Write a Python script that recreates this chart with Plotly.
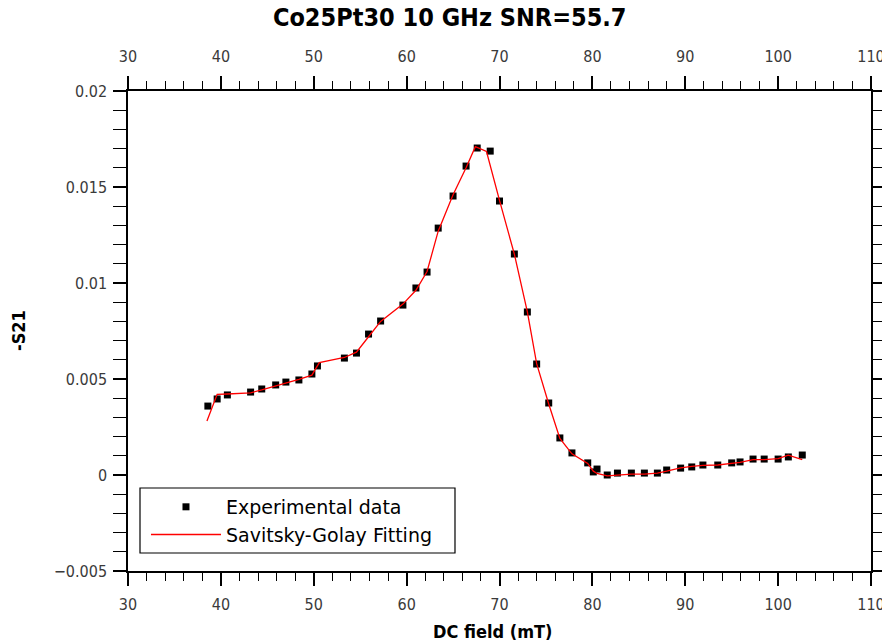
import plotly.graph_objects as go

# Experimental data (DC field in mT, -S21)
field_exp = [38.6, 39.6, 40.7, 43.2, 44.4, 45.9, 47.0, 48.4, 49.8, 50.4, 53.3, 54.6,
             55.9, 57.2, 59.6, 61.0, 62.2, 63.4, 65.0, 66.4, 67.6, 69.0, 70.0, 71.6,
             73.0, 74.0, 75.3, 76.5, 77.8, 79.5, 80.1, 80.5, 81.6, 82.7, 84.2, 85.6,
             87.0, 88.0, 89.5, 90.7, 91.9, 93.5, 95.0, 95.9, 97.3, 98.5, 100.0, 101.1, 102.6]
s21_exp = [0.00359, 0.00396, 0.00417, 0.00432, 0.00448, 0.00469, 0.00484, 0.00495, 0.00526,
           0.00568, 0.00609, 0.00635, 0.00734, 0.00802, 0.00885, 0.00974, 0.01057, 0.01286,
           0.01453, 0.01609, 0.01703, 0.01687, 0.01427, 0.01151, 0.00849, 0.00578, 0.00375,
           0.00193, 0.00115, 0.00063, 0.00016, 0.00031, 0.00000, 0.00010, 0.00010, 0.00010,
           0.00010, 0.00026, 0.00036, 0.00042, 0.00052, 0.00052, 0.00063, 0.00068, 0.00083,
           0.00083, 0.00083, 0.00094, 0.00104]

# Savitsky-Golay fitted curve
field_fit = [38.5, 39.6, 40.7, 43.2, 44.4, 45.9, 47.0, 48.4, 49.8, 50.6, 53.3, 54.6,
             55.9, 57.2, 59.6, 61.0, 62.2, 63.4, 65.0, 66.4, 67.4, 68.6, 70.0, 71.6,
             73.0, 74.0, 75.3, 76.5, 77.8, 79.5, 80.1, 80.5, 81.6, 82.7, 84.2, 85.6,
             87.0, 88.0, 89.5, 90.7, 91.9, 93.5, 95.0, 95.9, 97.3, 98.5, 100.0, 101.1, 102.6]
s21_fit = [0.00281, 0.00420, 0.00422, 0.00428, 0.00443, 0.00463, 0.00480, 0.00498, 0.00520,
           0.00585, 0.00612, 0.00640, 0.00720, 0.00800, 0.00890, 0.00962, 0.01060, 0.01270,
           0.01460, 0.01600, 0.01710, 0.01685, 0.01430, 0.01150, 0.00850, 0.00580, 0.00370,
           0.00190, 0.00110, 0.00060, 0.00020, 0.00008, -0.00005, 0.00000, 0.00005, 0.00005,
           0.00010, 0.00020, 0.00037, 0.00045, 0.00050, 0.00052, 0.00060, 0.00066, 0.00080,
           0.00080, 0.00085, 0.00103, 0.00080]

x_ticks = [30, 40, 50, 60, 70, 80, 90, 100, 110]
y_ticks = [0.02, 0.015, 0.01, 0.005, 0, -0.005]
y_ticktext = ["0.02", "0.015", "0.01", "0.005", "0", "\u22120.005"]

TICKFONT = dict(family="DejaVu Sans Condensed, DejaVu Sans", size=16, color="#3a3a3a")
BOLD = "DejaVu Sans Condensed, DejaVu Sans"

fig = go.Figure()
fig.add_trace(go.Scatter(
    x=field_exp, y=s21_exp, mode="markers", name="Experimental data",
    marker=dict(symbol="square", size=7, color="black"),
))
fig.add_trace(go.Scatter(
    x=field_fit, y=s21_fit, mode="lines", name="Savitsky-Golay Fitting",
    line=dict(color="#ff0000", width=1.3),
))
# invisible trace to carry the top axis
fig.add_trace(go.Scatter(x=[30, 110], y=[0, 0], xaxis="x2", mode="markers",
                         marker=dict(opacity=0), showlegend=False, hoverinfo="skip"))

axis_common = dict(
    showline=True, linecolor="black", linewidth=1.5, automargin=False,
    ticks="outside", ticklen=13, tickwidth=1.5, tickcolor="black",
    showgrid=False, zeroline=False, tickfont=TICKFONT, ticklabeloverflow="allow",
)
minor_x = dict(dtick=2, ticks="outside", ticklen=8, tickwidth=1.2, tickcolor="black")
# page body has an 8px margin: figure sized/offset to compensate
fig.update_layout(
    width=882, height=635,
    margin=dict(l=120, r=19, t=83, b=72),
    paper_bgcolor="white", plot_bgcolor="white",
    showlegend=True,
    title=dict(text="<b>Co25Pt30 10 GHz SNR=55.7</b>", xref="paper", x=0.433,
               xanchor="center", yref="container", y=1.0, yanchor="top",
               pad=dict(t=0, b=0),
               font=dict(family=BOLD, size=25, color="black")),
    xaxis=dict(range=[30, 110], tickvals=x_ticks, ticklabelstandoff=5, **axis_common,
               minor=minor_x),
    xaxis2=dict(range=[30, 110], tickvals=x_ticks, overlaying="x", side="top",
                matches="x", anchor="y", ticklabelstandoff=8, **axis_common,
                minor=minor_x),
    yaxis=dict(range=[-0.005, 0.02], tickvals=y_ticks, ticktext=y_ticktext,
               mirror="allticks", ticklabelstandoff=3, **axis_common,
               minor=dict(dtick=0.001, ticks="outside", ticklen=8, tickwidth=1.2, tickcolor="black")),
    legend=dict(x=0.0242, y=0.173, xanchor="left", yanchor="top",
                borderwidth=0, bgcolor="rgba(0,0,0,0)",
                font=dict(family="DejaVu Sans", size=19, color="black"),
                itemwidth=70, tracegroupgap=0),
    shapes=[
        dict(type="rect", xref="paper", yref="paper", x0=0.01615, x1=0.4401,
             y0=0.0375, y1=0.1729, line=dict(color="black", width=1.2),
             fillcolor="white", layer="above"),
    ],
    annotations=[
        dict(text="<b>DC field (mT)</b>", xref="paper", yref="paper",
             x=0.49, y=-0.127, xanchor="center", yanchor="middle", showarrow=False,
             font=dict(family=BOLD, size=18, color="black")),
        dict(text="<b>-S21</b>", xref="paper", yref="paper",
             x=-0.148, y=0.5, xanchor="center", yanchor="middle", showarrow=False,
             textangle=-90, font=dict(family=BOLD, size=18, color="black")),
    ],
)

fig.write_html("out.html")
